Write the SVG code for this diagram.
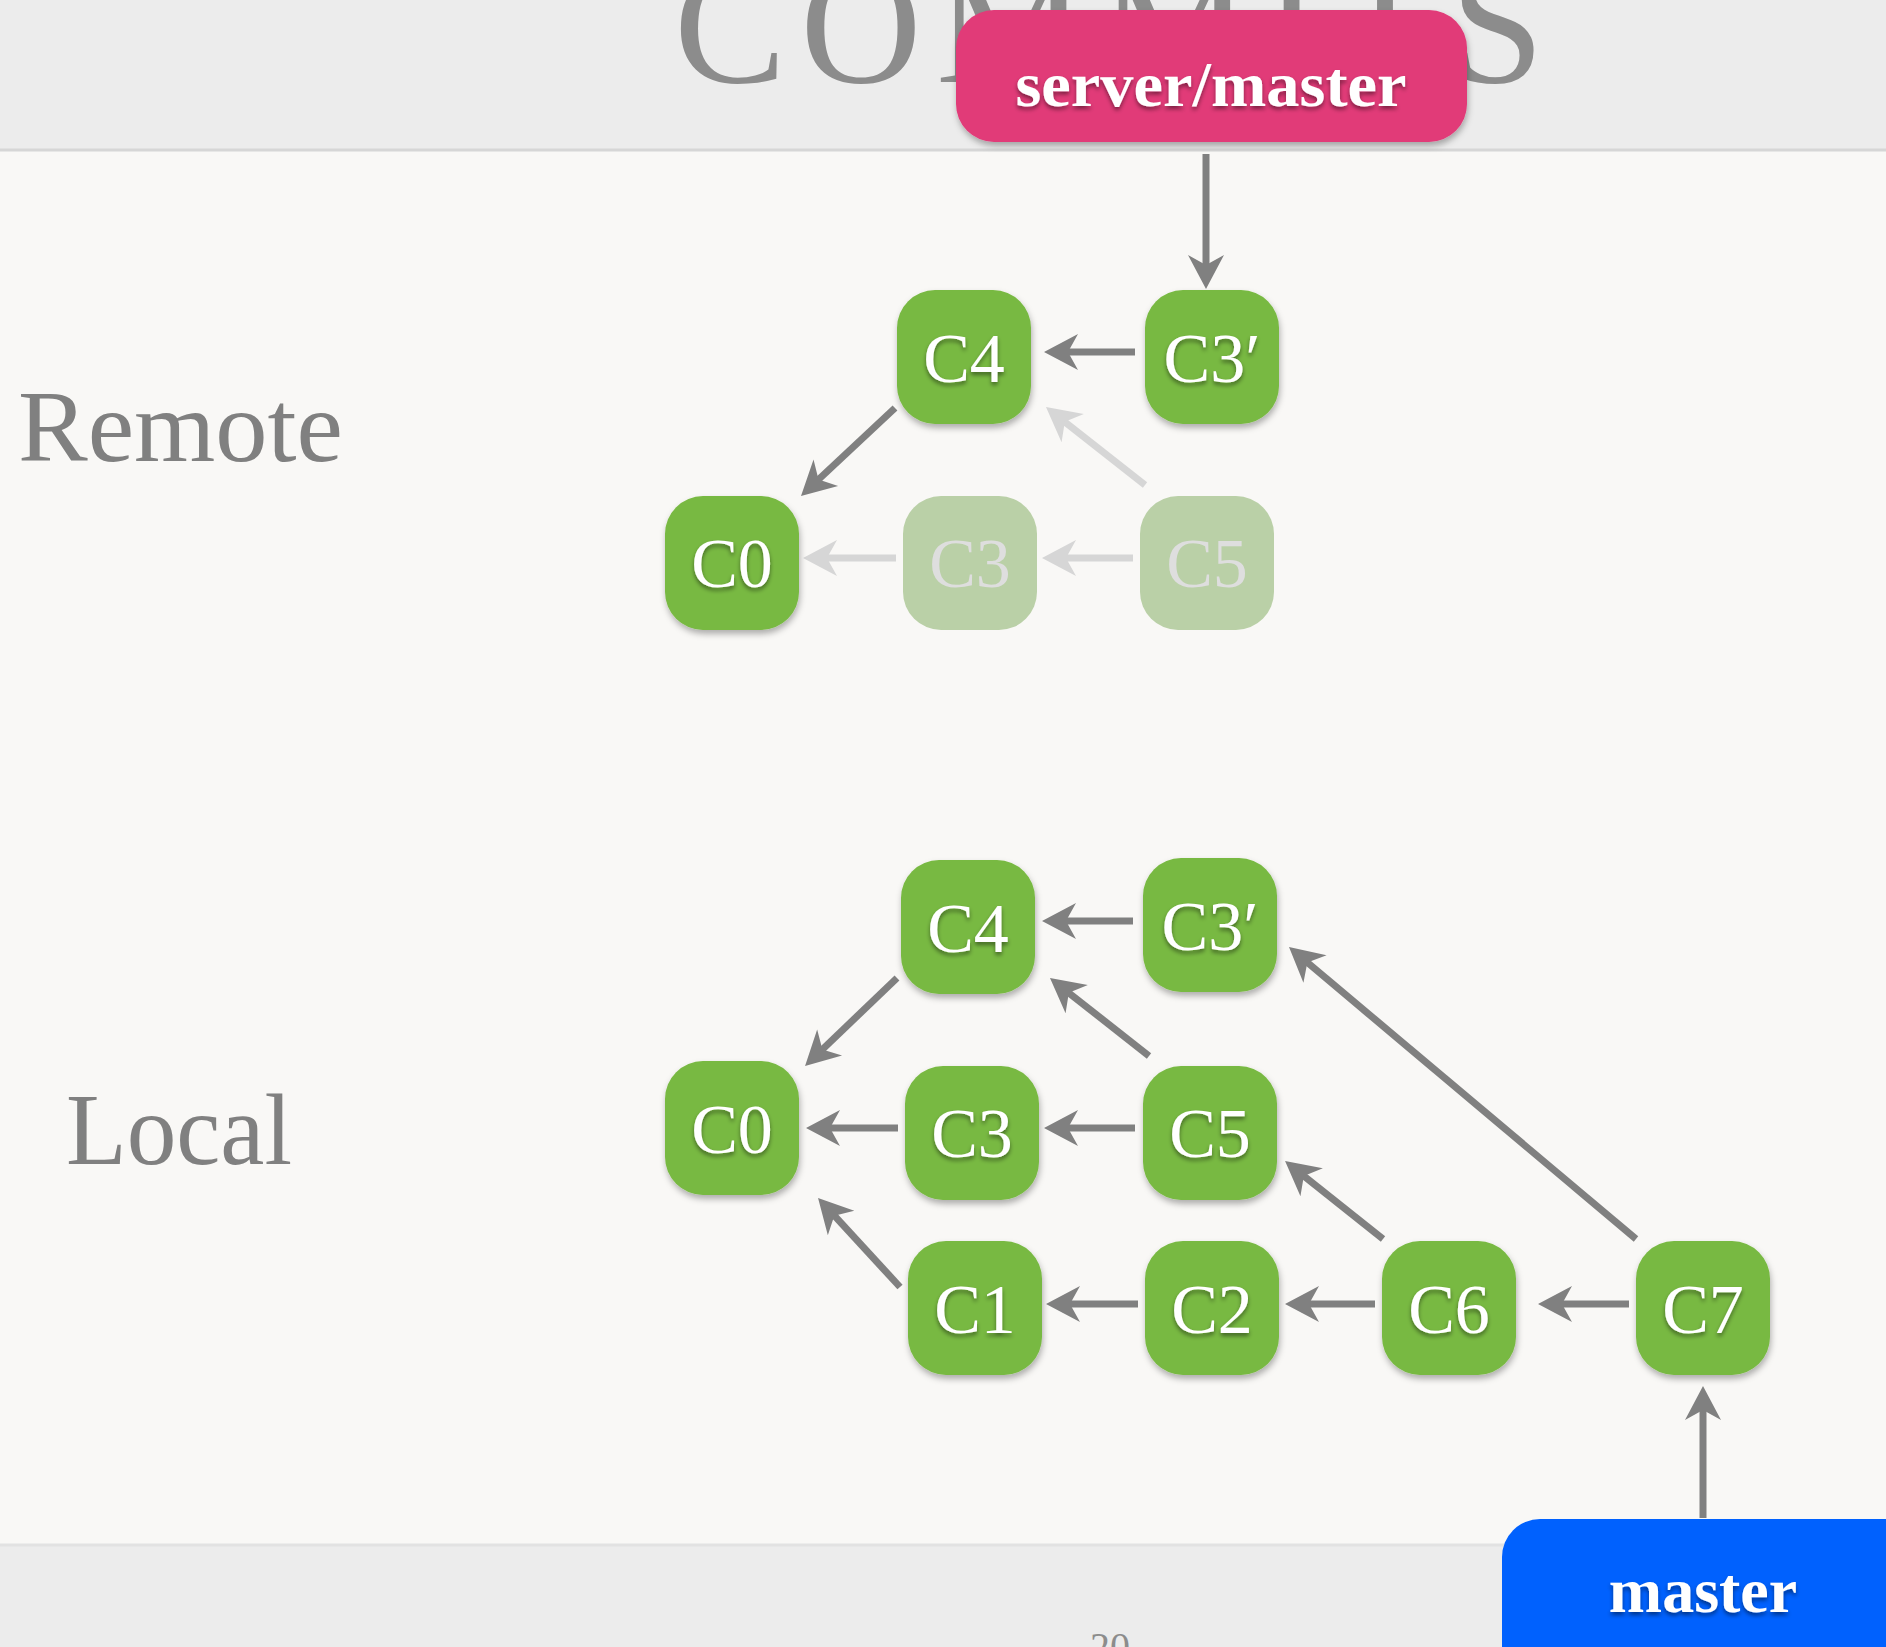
<svg xmlns="http://www.w3.org/2000/svg" width="1886" height="1647" viewBox="0 0 1886 1647">
<style>
.band{fill:#ececec}
.title{font-family:"Liberation Serif",serif;font-size:168px;fill:#8c8c8c}
.side{font-family:"Liberation Serif",serif;font-size:102px;fill:#808080}
.node{fill:#78b942;filter:url(#nshadow)}
.fnode{fill:#bad0a7}
.lbl{font-family:"Liberation Serif",serif;font-size:70px;fill:#ffffff;text-anchor:middle;filter:url(#tshadow)}
.flbl{font-family:"Liberation Serif",serif;font-size:70px;fill:#dedede;text-anchor:middle}
.tag{font-family:"Liberation Serif",serif;font-size:64px;font-weight:bold;fill:#ffffff;text-anchor:middle;filter:url(#tshadow)}
.edge{stroke:#808080;stroke-width:7;fill:none;marker-end:url(#arr)}
.fedge{stroke:#d6d6d6;stroke-width:7;fill:none;marker-end:url(#farr)}
.pg{font-family:"Liberation Serif",serif;font-size:40px;fill:#8c8c8c;text-anchor:middle}
</style>
<defs>
<filter id="nshadow" x="-20%" y="-20%" width="140%" height="150%">
<feDropShadow dx="1" dy="4" stdDeviation="3" flood-color="#000" flood-opacity="0.3"/>
</filter>
<filter id="tshadow" x="-20%" y="-20%" width="140%" height="150%">
<feDropShadow dx="0" dy="3" stdDeviation="2" flood-color="#000" flood-opacity="0.45"/>
</filter>
<marker id="arr" markerUnits="userSpaceOnUse" markerWidth="40" markerHeight="40" viewBox="-2 -20 40 40" refX="14" refY="0" orient="auto">
<path d="M0,-18 L34,0 L0,18 L10,0 Z" fill="#808080"/>
</marker>
<marker id="farr" markerUnits="userSpaceOnUse" markerWidth="40" markerHeight="40" viewBox="-2 -20 40 40" refX="14" refY="0" orient="auto">
<path d="M0,-18 L34,0 L0,18 L10,0 Z" fill="#d6d6d6"/>
</marker>
</defs>
<rect x="0" y="0" width="1886" height="1647" fill="#f9f8f6"/>
<rect class="band" x="0" y="0" width="1886" height="150"/>
<line x1="0" y1="150" x2="1886" y2="150" stroke="#d6d6d6" stroke-width="3"/>
<rect class="band" x="0" y="1545" width="1886" height="102"/>
<line x1="0" y1="1545" x2="1886" y2="1545" stroke="#e2e2e2" stroke-width="3"/>
<text class="title" x="674" y="82" textLength="870" lengthAdjust="spacing">COMMITS</text>
<text class="pg" x="1110" y="1660">20</text>
<text class="side" x="18" y="461" textLength="325" lengthAdjust="spacingAndGlyphs">Remote</text>
<text class="side" x="66" y="1164" textLength="226" lengthAdjust="spacingAndGlyphs">Local</text>

<g id="connectors">
<path class="edge" d="M1206,154 L1206,269"/>
<path class="edge" d="M1135,352 L1064,352"/>
<path class="edge" d="M895,408 L815.6,482.3"/>
<path class="fedge" d="M1145,485 L1061.7,419.4"/>
<path class="fedge" d="M896,558 L823,558"/>
<path class="fedge" d="M1133,558 L1062,558"/>
<path class="edge" d="M1133,921 L1062,921"/>
<path class="edge" d="M897,978 L819.5,1052.2"/>
<path class="edge" d="M1149,1056 L1065.7,990.4"/>
<path class="edge" d="M1636,1239 L1304.3,959.9"/>
<path class="edge" d="M898,1128 L826,1128"/>
<path class="edge" d="M1135,1128 L1064,1128"/>
<path class="edge" d="M900,1287 L831.6,1212.7"/>
<path class="edge" d="M1383,1239 L1300.7,1173.5"/>
<path class="edge" d="M1138,1304 L1066,1304"/>
<path class="edge" d="M1375,1304 L1305,1304"/>
<path class="edge" d="M1629,1304 L1558,1304"/>
<path class="edge" d="M1703,1518 L1703,1406"/>
</g>

<g id="server-master">
<rect x="956" y="10" width="511" height="132" rx="38" fill="#e13a78" filter="url(#nshadow)"/>
<text class="tag" x="1211" y="106" textLength="391" lengthAdjust="spacingAndGlyphs">server/master</text>
</g>
<g id="master">
<rect x="1502" y="1519" width="420" height="170" rx="38" fill="#0061fe"/>
<text class="tag" x="1703" y="1612">master</text>
</g>

<g id="r-C4"><rect class="node" x="897" y="290" width="134" height="134" rx="38"/><text class="lbl" x="964" y="382">C4</text></g>
<g id="r-C3p"><rect class="node" x="1145" y="290" width="134" height="134" rx="38"/><text class="lbl" x="1212" y="382">C3′</text></g>
<g id="r-C0"><rect class="node" x="665" y="496" width="134" height="134" rx="38"/><text class="lbl" x="732" y="587">C0</text></g>
<g id="r-C3"><rect class="fnode" x="903" y="496" width="134" height="134" rx="38"/><text class="flbl" x="970" y="587">C3</text></g>
<g id="r-C5"><rect class="fnode" x="1140" y="496" width="134" height="134" rx="38"/><text class="flbl" x="1207" y="587">C5</text></g>

<g id="l-C4"><rect class="node" x="901" y="860" width="134" height="134" rx="38"/><text class="lbl" x="968" y="952">C4</text></g>
<g id="l-C3p"><rect class="node" x="1143" y="858" width="134" height="134" rx="38"/><text class="lbl" x="1210" y="950">C3′</text></g>
<g id="l-C0"><rect class="node" x="665" y="1061" width="134" height="134" rx="38"/><text class="lbl" x="732" y="1153">C0</text></g>
<g id="l-C3"><rect class="node" x="905" y="1066" width="134" height="134" rx="38"/><text class="lbl" x="972" y="1157">C3</text></g>
<g id="l-C5"><rect class="node" x="1143" y="1066" width="134" height="134" rx="38"/><text class="lbl" x="1210" y="1157">C5</text></g>
<g id="l-C1"><rect class="node" x="908" y="1241" width="134" height="134" rx="38"/><text class="lbl" x="975" y="1333">C1</text></g>
<g id="l-C2"><rect class="node" x="1145" y="1241" width="134" height="134" rx="38"/><text class="lbl" x="1212" y="1333">C2</text></g>
<g id="l-C6"><rect class="node" x="1382" y="1241" width="134" height="134" rx="38"/><text class="lbl" x="1449" y="1333">C6</text></g>
<g id="l-C7"><rect class="node" x="1636" y="1241" width="134" height="134" rx="38"/><text class="lbl" x="1703" y="1333">C7</text></g>
</svg>
